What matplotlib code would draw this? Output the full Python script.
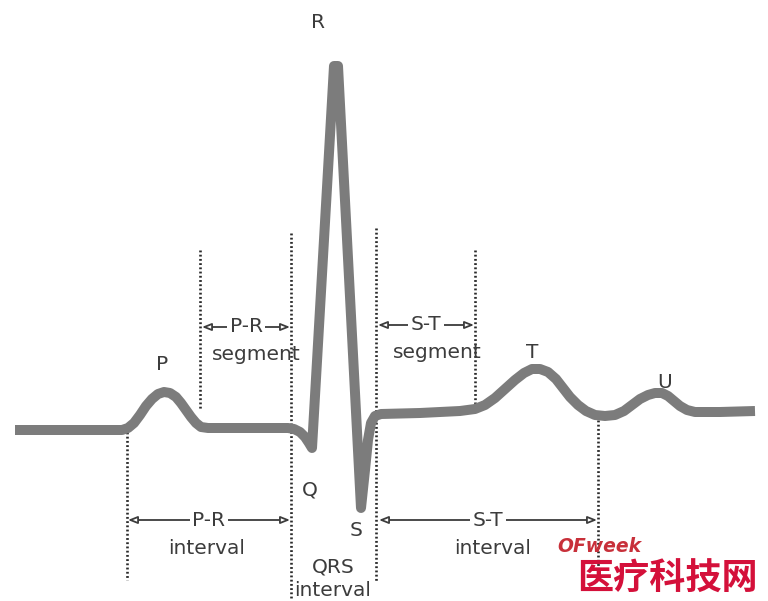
import matplotlib
matplotlib.use("Agg")
import matplotlib.pyplot as plt

# ECG trace points (image pixel coordinates)
trace_x = [15, 122, 128, 134, 140, 146, 152, 158, 164, 170, 176, 181, 186, 191, 196, 201, 208,
           250, 288, 294, 300, 305, 309, 312,
           334, 338,
           361, 365, 368, 371, 375, 381,
           420, 460, 475, 485, 495, 505, 515, 524, 532, 540, 548, 556, 563, 570, 578, 586,
           595, 605, 615, 624, 632, 640, 648, 655, 662, 668, 674, 680, 687, 695, 720, 755]
trace_y = [430, 430, 428, 423, 415, 406, 399, 394, 392, 393, 397, 403, 410, 417, 423, 427, 428,
           428, 428, 429, 432, 437, 443, 448,
           66, 66,
           508, 470, 440, 423, 416, 414,
           413, 411, 409, 405, 398, 389, 380, 373, 369, 369, 372, 379, 388, 397, 405, 411,
           415, 416, 415, 411, 405, 399, 395, 393, 393, 396, 401, 406, 410, 412, 412, 411]

# Dotted guide lines: x, y_top, y_bottom
guide_x = [127, 200, 291, 376, 475, 598]
guide_top = [432, 250, 233, 228, 250, 420]
guide_bot = [580, 410, 598, 582, 405, 572]

# Wave labels
wave_labels = ["R", "P", "Q", "S", "T", "U"]
wave_lx = [318, 162, 310, 356, 532, 665]
wave_ly = [22, 365, 490, 530, 352, 383]

# Measurement arrows: label, x_start, x_end, y, sublabel, sublabel position
arrow_labels = ["P-R", "S-T", "P-R", "S-T"]
arrow_x0 = [202, 378, 128, 379]
arrow_x1 = [290, 474, 290, 597]
arrow_y = [327, 325, 520, 520]
arrow_sub = ["segment", "segment", "interval", "interval"]
arrow_sub_x = [256, 437, 207, 493]
arrow_sub_y = [355, 352, 548, 548]

W, H = 768, 601
fig = plt.figure(figsize=(W / 100, H / 100), dpi=100)
ax = fig.add_axes([0, 0, 1, 1])
ax.set_xlim(0, W)
ax.set_ylim(H, 0)
ax.axis("off")

txt_color = "#3c3c3c"
fs = 14.5

for x, t, b in zip(guide_x, guide_top, guide_bot):
    ax.plot([x, x], [t, b], color="#2a2a2a", lw=1.9, linestyle=(0, (0.7, 0.9)), zorder=1)

ax.plot(trace_x, trace_y, color="#7c7c7c", lw=7.2, solid_joinstyle="round",
        solid_capstyle="butt", zorder=3)

for lab, lx, ly in zip(wave_labels, wave_lx, wave_ly):
    ax.text(lx, ly, lab, ha="center", va="center", fontsize=fs, color=txt_color, zorder=5)

for lab, x0, x1, y, sub, sx, sy in zip(arrow_labels, arrow_x0, arrow_x1, arrow_y,
                                         arrow_sub, arrow_sub_x, arrow_sub_y):
    ax.annotate("", xy=(x0, y), xytext=(x1, y),
                arrowprops=dict(arrowstyle="<|-|>,head_length=0.55,head_width=0.22",
                                fc="white", ec=txt_color, lw=1.3, shrinkA=0, shrinkB=0),
                zorder=2)
    ax.text((x0 + x1) / 2, y, lab, ha="center", va="center", fontsize=fs, color=txt_color,
            bbox=dict(fc="white", ec="none", pad=2), zorder=4)
    ax.text(sx, sy, sub, ha="center", va="center", fontsize=fs, color=txt_color, zorder=4)

ax.text(333, 567, "QRS", ha="center", va="center", fontsize=fs, color=txt_color, zorder=4)
ax.text(333, 591, "interval", ha="center", va="center", fontsize=fs, color=txt_color, zorder=4)

ax.text(599, 547, "OFweek", ha="center", va="center", fontsize=13.5, color="#c8303a",
        style="italic", fontweight="bold", zorder=4)
ax.text(667, 579, "医疗科技网", ha="center", va="center", fontsize=26, color="#d4103a",
        family=["Noto Sans CJK SC", "DejaVu Sans"], fontweight="bold", zorder=4)

fig.savefig("out.png", dpi=100, facecolor="white")
